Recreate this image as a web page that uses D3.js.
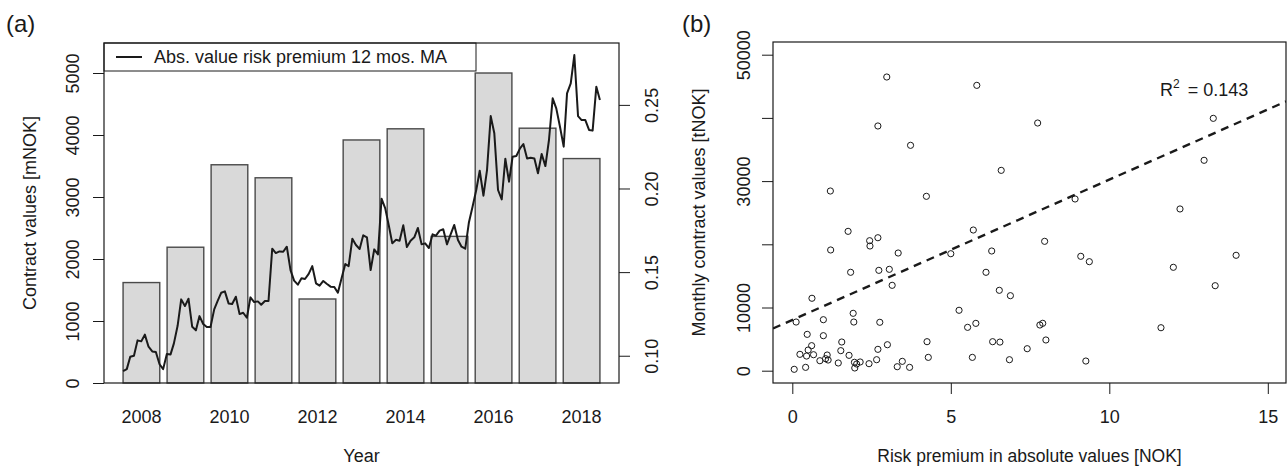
<!DOCTYPE html>
<html>
<head>
<meta charset="utf-8">
<script src="https://cdn.jsdelivr.net/npm/d3@7"></script>
<style>
  body { margin: 0; background: #fff; }
  svg text { font-family: "Liberation Sans", Arial, sans-serif; fill: #1a1a1a; }
</style>
</head>
<body>
<svg id="chart"></svg>
<script>
const width = 1288;
const height = 468;

// Panel (a) : annual contract values (bars) + risk premium 12 mos. MA (line)
const years = [2008, 2009, 2010, 2011, 2012, 2013, 2014, 2015, 2016, 2017, 2018];
const contractValues = [1620, 2190, 3520, 3310, 1355, 3920, 4100, 2365, 5000, 4110, 3620];
const yearLabels = [2008, 2010, 2012, 2014, 2016, 2018];
const leftTicks = [0, 1000, 2000, 3000, 4000, 5000];
const rightTicks = [0.10, 0.15, 0.20, 0.25];

// monthly values, Jan 2008 -> Dec 2018
const riskPremiumMA = [
  0.0908, 0.0920, 0.0994, 0.1000, 0.1092, 0.1086, 0.1126, 0.1054, 0.1026, 0.1022, 0.0949, 0.0920,
  0.1010, 0.1008, 0.1074, 0.1179, 0.1337, 0.1297, 0.1341, 0.1173, 0.1152, 0.1237, 0.1190, 0.1172,
  0.1172, 0.1277, 0.1327, 0.1377, 0.1385, 0.1313, 0.1309, 0.1353, 0.1249, 0.1257, 0.1227, 0.1349,
  0.1321, 0.1325, 0.1305, 0.1327, 0.1327, 0.1640, 0.1614, 0.1624, 0.1622, 0.1652, 0.1512, 0.1449,
  0.1425, 0.1463, 0.1459, 0.1489, 0.1536, 0.1433, 0.1419, 0.1447, 0.1429, 0.1413, 0.1411, 0.1377,
  0.1463, 0.1548, 0.1536, 0.1700, 0.1662, 0.1638, 0.1720, 0.1708, 0.1512, 0.1636, 0.1606, 0.1939,
  0.1881, 0.1774, 0.1672, 0.1694, 0.1688, 0.1780, 0.1650, 0.1688, 0.1708, 0.1764, 0.1666, 0.1672,
  0.1644, 0.1726, 0.1718, 0.1748, 0.1756, 0.1666, 0.1724, 0.1782, 0.1692, 0.1652, 0.1640, 0.1795,
  0.1891, 0.1991, 0.2106, 0.1957, 0.2110, 0.2433, 0.2330, 0.1991, 0.1935, 0.2178, 0.2041, 0.2190,
  0.2194, 0.2240, 0.2266, 0.2180, 0.2184, 0.2180, 0.2091, 0.2206, 0.2134, 0.2290, 0.2539, 0.2479,
  0.2369, 0.2250, 0.2569, 0.2629, 0.2798, 0.2433, 0.2409, 0.2409, 0.2350, 0.2346, 0.2609, 0.2529
];

// Panel (b) : risk premium [NOK] vs monthly contract values [tNOK]
const premiumNOK = [
  2.98, 5.82, 2.70, 3.73, 1.20, 4.23, 1.76, 5.71, 2.44, 2.45, 2.70, 1.21, 3.34, 5.00, 6.29,
  1.84, 2.73, 3.06, 6.11, 3.15, 0.62, 5.26, 0.12, 0.98, 1.92, 1.94, 2.76, 5.53, 5.79, 0.47,
  0.98, 1.56, 3.00, 4.25, 6.32, 0.61, 0.50, 1.53, 2.70, 0.24, 0.45, 0.67, 1.10, 1.79, 4.29,
  5.68, 0.87, 1.05, 1.13, 1.45, 1.96, 2.14, 2.42, 2.66, 1.97, 2.03, 3.47, 3.31, 3.70, 0.06,
  0.42, 7.74, 6.59, 8.92, 13.28, 12.99, 12.23, 7.96, 9.10, 9.37, 14.00, 12.02, 6.53, 6.88,
  13.34, 7.81, 7.90, 11.63, 6.55, 8.00, 7.41, 6.85, 9.26
];
const monthlyValues = [
  46470, 45150, 38720, 35660, 28430, 27590, 22050, 22260, 20570, 19730, 21040, 19100, 18620, 18510, 18940,
  15570, 15880, 16040, 15570, 13510, 11460, 9560, 7700, 8070, 9080, 7700, 7660, 6860, 7490, 5750,
  5540, 4540, 4110, 4590, 4590, 3960, 3270, 3170, 3380, 2590, 2320, 2530, 2480, 2430, 2110,
  2110, 1580, 1900, 1690, 1220, 1330, 1380, 1110, 1740, 430, 1060, 1480, 630, 530, 220,
  530, 39190, 31700, 27170, 39930, 33290, 25590, 20470, 18100, 17250, 18260, 16360, 12720, 11870,
  13450, 7230, 7500, 6800, 4530, 4860, 3480, 1740, 1530
];
const fitIntercept = 8030;
const fitSlope = 2220;
const rSquared = "0.143";
const xTicksB = [0, 5, 10, 15];
const yTicksB = [0, 10000, 20000, 30000, 40000, 50000];
const yLabelsB = [0, 10000, 30000, 50000];

const fs = 18;

const svg = d3.select("#chart")
  .attr("width", width)
  .attr("height", height);

// ---------- panel (a) ----------
const A = { left: 104, right: 619, top: 43, bottom: 383 };

// barplot units, like R (space 0.2, width 1)
const xA = d3.scaleLinear().domain([-0.32, 13.72]).range([A.left, A.right]);
const barLeft = i => 0.2 + 1.2 * i;

const yL = d3.scaleLinear().domain([0, 5484]).range([A.bottom, A.top]);
const yR = d3.scaleLinear().domain([0.0837, 0.2870]).range([A.bottom, A.top]);

const months = riskPremiumMA.map((v, i) => new Date(2008, i, 1));
const xT = d3.scaleTime()
  .domain([months[0], months[months.length - 1]])
  .range([xA(0.2), xA(13.2)]);

const gA = svg.append("g");

gA.selectAll("rect.bar")
  .data(contractValues)
  .enter()
  .append("rect")
  .attr("class", "bar")
  .attr("x", (d, i) => xA(barLeft(i)))
  .attr("width", (d, i) => xA(barLeft(i) + 1) - xA(barLeft(i)))
  .attr("y", d => yL(d))
  .attr("height", d => yL(0) - yL(d))
  .attr("fill", "#d9d9d9")
  .attr("stroke", "#4a4a4a")
  .attr("stroke-width", 1.4);

const line = d3.line()
  .x((d, i) => xT(months[i]))
  .y(d => yR(d));

gA.append("path")
  .datum(riskPremiumMA)
  .attr("d", line)
  .attr("fill", "none")
  .attr("stroke", "#1a1a1a")
  .attr("stroke-width", 2)
  .attr("stroke-linejoin", "round");

// left axis
const axL = d3.axisLeft(yL).tickValues(leftTicks).tickSize(11).tickFormat(d3.format("d"));
const gL = gA.append("g").attr("transform", `translate(${A.left},0)`).call(axL);
gL.select(".domain").remove();
gL.selectAll("line").attr("stroke", "#1a1a1a");
gL.selectAll("text")
  .attr("font-size", fs)
  .attr("transform", `translate(${72.5 - A.left},0) rotate(-90)`)
  .attr("x", 0).attr("y", 0).attr("dy", "0.35em")
  .attr("text-anchor", "middle");

// right axis
const axR = d3.axisRight(yR).tickValues(rightTicks).tickSize(11).tickFormat(d3.format(".2f"));
const gR = gA.append("g").attr("transform", `translate(${A.right},0)`).call(axR);
gR.select(".domain").remove();
gR.selectAll("line").attr("stroke", "#1a1a1a");
gR.selectAll("text")
  .attr("font-size", fs)
  .attr("transform", `translate(${651.5 - A.right},0) rotate(-90)`)
  .attr("x", 0).attr("y", 0).attr("dy", "0.35em")
  .attr("text-anchor", "middle");

// year labels (no tick marks)
gA.selectAll("text.year")
  .data(yearLabels)
  .enter()
  .append("text")
  .attr("class", "year")
  .attr("x", d => xA(barLeft(years.indexOf(d)) + 0.5))
  .attr("y", 417)
  .attr("dy", "0.35em")
  .attr("text-anchor", "middle")
  .attr("font-size", fs)
  .text(d => d);

// legend
gA.append("rect")
  .attr("x", A.left).attr("y", A.top)
  .attr("width", 476 - A.left).attr("height", 71 - A.top)
  .attr("fill", "#fff").attr("stroke", "#1a1a1a").attr("stroke-width", 1);
gA.append("line")
  .attr("x1", 116).attr("x2", 142).attr("y1", 57).attr("y2", 57)
  .attr("stroke", "#1a1a1a").attr("stroke-width", 2);
gA.append("text")
  .attr("x", 154).attr("y", 57).attr("dy", "0.35em")
  .attr("font-size", fs)
  .text("Abs. value risk premium 12 mos. MA");

gA.append("rect")
  .attr("x", A.left).attr("y", A.top)
  .attr("width", A.right - A.left).attr("height", A.bottom - A.top)
  .attr("fill", "none").attr("stroke", "#1a1a1a").attr("stroke-width", 1.2);

gA.append("text")
  .attr("transform", `translate(30,${(A.top + A.bottom) / 2}) rotate(-90)`)
  .attr("dy", "0.35em")
  .attr("text-anchor", "middle")
  .attr("font-size", fs)
  .text("Contract values [mNOK]");

gA.append("text")
  .attr("x", (A.left + A.right) / 2).attr("y", 456).attr("dy", "0.35em")
  .attr("text-anchor", "middle")
  .attr("font-size", fs)
  .text("Year");

gA.append("text")
  .attr("x", 6).attr("y", 24).attr("dy", "0.35em")
  .attr("font-size", 24)
  .text("(a)");

// ---------- panel (b) ----------
const B = { left: 773, right: 1286, top: 42, bottom: 383 };
const xB = d3.scaleLinear().domain([-0.609, 15.574]).range([B.left, B.right]);
const yB = d3.scaleLinear().domain([-1946, 52009]).range([B.bottom, B.top]);

const gB = svg.append("g");

svg.append("defs").append("clipPath").attr("id", "clipB")
  .append("rect")
  .attr("x", B.left).attr("y", B.top)
  .attr("width", B.right - B.left).attr("height", B.bottom - B.top);

// regression line (abline)
const xr = xB.domain();
gB.append("line")
  .attr("clip-path", "url(#clipB)")
  .attr("x1", xB(xr[0])).attr("y1", yB(fitIntercept + fitSlope * xr[0]))
  .attr("x2", xB(xr[1])).attr("y2", yB(fitIntercept + fitSlope * xr[1]))
  .attr("stroke", "#1a1a1a")
  .attr("stroke-width", 2.4)
  .attr("stroke-dasharray", "8,6");

gB.selectAll("circle")
  .data(premiumNOK.map((x, i) => [x, monthlyValues[i]]))
  .enter()
  .append("circle")
  .attr("cx", d => xB(d[0]))
  .attr("cy", d => yB(d[1]))
  .attr("r", 3.1)
  .attr("fill", "none")
  .attr("stroke", "#1a1a1a")
  .attr("stroke-width", 1);

// x axis
const axBx = d3.axisBottom(xB).tickValues(xTicksB).tickSize(11).tickFormat(d3.format("d"));
const gBx = gB.append("g").attr("transform", `translate(0,${B.bottom})`).call(axBx);
gBx.select(".domain").remove();
gBx.selectAll("line").attr("stroke", "#1a1a1a");
gBx.selectAll("text")
  .attr("font-size", fs)
  .attr("y", 417 - B.bottom).attr("dy", "0.35em");

// y axis
const axBy = d3.axisLeft(yB).tickValues(yTicksB).tickSize(11)
  .tickFormat(d => yLabelsB.includes(d) ? d3.format("d")(d) : "");
const gBy = gB.append("g").attr("transform", `translate(${B.left},0)`).call(axBy);
gBy.select(".domain").remove();
gBy.selectAll("line").attr("stroke", "#1a1a1a");
gBy.selectAll("text")
  .attr("font-size", fs)
  .attr("transform", `translate(${743.5 - B.left},0) rotate(-90)`)
  .attr("x", 0).attr("y", 0).attr("dy", "0.35em")
  .attr("text-anchor", "middle");

gB.append("rect")
  .attr("x", B.left).attr("y", B.top)
  .attr("width", B.right - B.left).attr("height", B.bottom - B.top)
  .attr("fill", "none").attr("stroke", "#1a1a1a").attr("stroke-width", 1.2);

const r2 = gB.append("text")
  .attr("x", 1160).attr("y", 96)
  .attr("font-size", fs);
r2.append("tspan").text("R");
r2.append("tspan").attr("font-size", 12).attr("dy", -8).text("2");
r2.append("tspan").attr("dy", 8).attr("dx", 8).text("= " + rSquared);

gB.append("text")
  .attr("transform", `translate(699,${(B.top + B.bottom) / 2}) rotate(-90)`)
  .attr("dy", "0.35em")
  .attr("text-anchor", "middle")
  .attr("font-size", fs)
  .text("Monthly contract values [tNOK]");

gB.append("text")
  .attr("x", (B.left + B.right) / 2).attr("y", 456).attr("dy", "0.35em")
  .attr("text-anchor", "middle")
  .attr("font-size", 17.5)
  .text("Risk premium in absolute values [NOK]");

gB.append("text")
  .attr("x", 682).attr("y", 24).attr("dy", "0.35em")
  .attr("font-size", 24)
  .text("(b)");
</script>
</body>
</html>
